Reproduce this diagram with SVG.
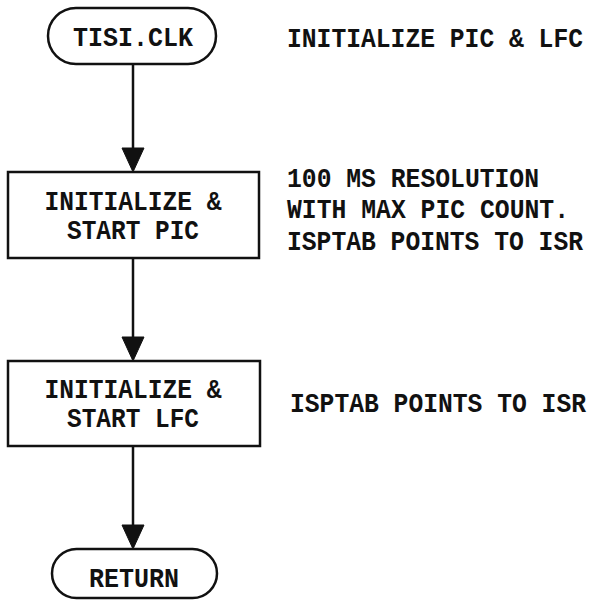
<svg xmlns="http://www.w3.org/2000/svg" width="593" height="605" viewBox="0 0 593 605">
  <defs>
    <style>
      .shape { fill: none; stroke: #111; stroke-width: 2.5; }
      .wire { stroke: #111; stroke-width: 2.5; fill: none; }
      .head { fill: #111; stroke: #111; stroke-width: 1; stroke-linejoin: round; }
      .lbl { font-family: "Liberation Mono", "DejaVu Sans Mono", monospace; font-weight: bold; font-size: 25px; fill: #111; }
      .mid { text-anchor: middle; }
    </style>
  </defs>
  <rect width="593" height="605" fill="#fff"/>

  <!-- connectors -->
  <g id="connectors">
    <line class="wire" x1="133" y1="64" x2="133" y2="150"/>
    <polygon class="head" points="122,148 144,148 133,172"/>
    <line class="wire" x1="133" y1="258" x2="133" y2="339"/>
    <polygon class="head" points="122,337 144,337 133,361"/>
    <line class="wire" x1="133" y1="446" x2="133" y2="527"/>
    <polygon class="head" points="122,525 144,525 133,549"/>
  </g>

  <!-- start terminal -->
  <g id="start">
    <rect class="shape" x="48" y="8" width="168" height="56" rx="28" ry="28"/>
    <text class="lbl mid" transform="translate(133,46) scale(1,1.08)" textLength="120" lengthAdjust="spacingAndGlyphs">TISI.CLK</text>
  </g>

  <!-- PIC setup step -->
  <g id="init-pic">
    <rect class="shape" x="8" y="172" width="251" height="86"/>
    <text class="lbl mid" transform="translate(133,210) scale(1,1.08)" textLength="177" lengthAdjust="spacingAndGlyphs">INITIALIZE &amp;</text>
    <text class="lbl mid" transform="translate(133,239) scale(1,1.08)" textLength="132" lengthAdjust="spacingAndGlyphs">START PIC</text>
  </g>

  <!-- LFC setup step -->
  <g id="init-lfc">
    <rect class="shape" x="8" y="361" width="252" height="85"/>
    <text class="lbl mid" transform="translate(133,398) scale(1,1.08)" textLength="177" lengthAdjust="spacingAndGlyphs">INITIALIZE &amp;</text>
    <text class="lbl mid" transform="translate(133,427) scale(1,1.08)" textLength="132" lengthAdjust="spacingAndGlyphs">START LFC</text>
  </g>

  <!-- end terminal -->
  <g id="return">
    <rect class="shape" x="52" y="549" width="165" height="49" rx="24.5" ry="24.5"/>
    <text class="lbl mid" transform="translate(134,587) scale(1,1.08)" textLength="90" lengthAdjust="spacingAndGlyphs">RETURN</text>
  </g>

  <!-- side notes -->
  <g id="notes">
    <text class="lbl" transform="translate(287,47) scale(1,1.08)" textLength="296" lengthAdjust="spacingAndGlyphs">INITIALIZE PIC &amp; LFC</text>
    <text class="lbl" transform="translate(287,187) scale(1,1.08)" textLength="252" lengthAdjust="spacingAndGlyphs">100 MS RESOLUTION</text>
    <text class="lbl" transform="translate(287,218) scale(1,1.08)" textLength="282" lengthAdjust="spacingAndGlyphs">WITH MAX PIC COUNT.</text>
    <text class="lbl" transform="translate(287,250) scale(1,1.08)" textLength="296" lengthAdjust="spacingAndGlyphs">ISPTAB POINTS TO ISR</text>
    <text class="lbl" transform="translate(290,412) scale(1,1.08)" textLength="296" lengthAdjust="spacingAndGlyphs">ISPTAB POINTS TO ISR</text>
  </g>
</svg>
